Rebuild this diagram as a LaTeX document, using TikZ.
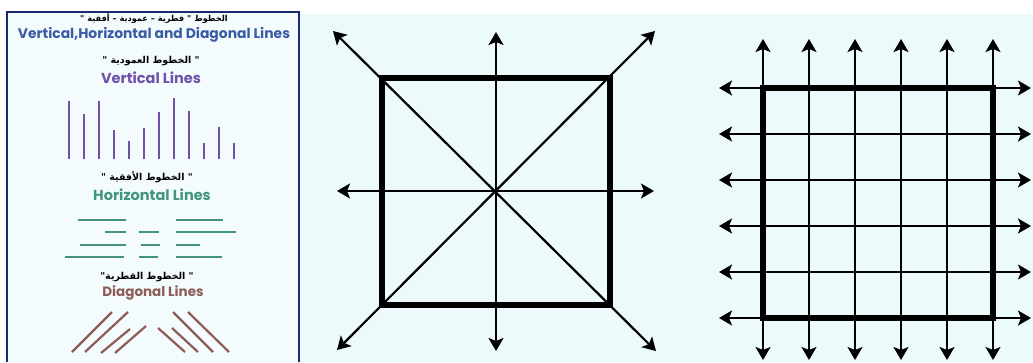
\documentclass[tikz,border=0pt]{standalone}
\usepackage{fontspec}
\setmainfont{Poppins}
\newfontfamily\arabicfont[Script=Arabic]{DejaVu Sans}
\TeXXeTstate=1
\usepackage{tikz}
\usetikzlibrary{arrows.meta}
\definecolor{panelcyan}{RGB}{237,250,252}
\definecolor{panelpale}{RGB}{243,251,252}
\definecolor{frameblue}{RGB}{28,42,115}
\definecolor{titleblue}{RGB}{58,92,165}
\definecolor{vertpurple}{RGB}{112,82,168}
\definecolor{horizteal}{RGB}{66,148,126}
\definecolor{diagbrown}{RGB}{142,92,86}

\begin{document}
\begin{tikzpicture}[x=1pt, y=-1pt,
    arabic/.style={font=\arabicfont\bfseries\fontsize{9.5}{11}\selectfont, inner sep=0pt},
    heading/.style={font=\bfseries\fontsize{14.5}{16}\selectfont, inner sep=0pt},
    vline/.style={vertpurple, line width=2.2pt},
    hline/.style={horizteal, line width=2.2pt},
    dline/.style={diagbrown, line width=2.2pt},
    arrow/.style={{Stealth[length=13pt, width=15pt, inset=3pt]}-{Stealth[length=13pt, width=15pt, inset=3pt]}, line width=2.2pt, black},
    frame/.style={line width=6pt, black}
]
\useasboundingbox (0,0) rectangle (1033,362);
\fill[white] (0,0) rectangle (1033,362);
\fill[panelcyan] (300,14) rectangle (1033,362);
\fill[panelpale] (7,12) rectangle (299,362);
\draw[frameblue, line width=2pt] (7,362) -- (7,12) -- (299,12) -- (299,362);

% left panel: titles and sample lines
\node[arabic, font=\arabicfont\bfseries\fontsize{8.2}{10}\selectfont] (titlear) at (154,18) {\beginR الخطوط " قطرية – عمودية – أفقية "\endR};
\node[heading, font=\bfseries\fontsize{13.9}{15}\selectfont, text=titleblue] (titleen) at (154,35) {Vertical,Horizontal and Diagonal Lines};
\node[arabic] (vertar) at (151,61) {\beginR " الخطوط العمودية "\endR};
\node[heading, text=vertpurple] (verten) at (151,78) {Vertical Lines};
\foreach \x/\t in {69/101, 84/114, 99/101, 114/130, 129/141, 144/128, 159/112, 174/98, 189/111, 204/143, 219/127, 234/143}
  \draw[vline] (\x,159) -- (\x,\t);
\node[arabic] (horizar) at (147,177) {\beginR " الخطوط الأفقية "\endR};
\node[heading, text=horizteal] (horizen) at (152,195) {Horizontal Lines};
\foreach \a/\b/\y in {78/126/220, 176/223/220, 105/126/232, 139/159/232, 176/236/232,
                      80/126/245, 141/160/245, 176/200/245, 65/124/257, 139/158/257, 176/222/257}
  \draw[hline] (\a,\y) -- (\b,\y);
\node[arabic] (diagar) at (147,277) {\beginR " الخطوط القطرية"\endR};
\node[heading, font=\bfseries\fontsize{13.5}{15}\selectfont, text=diagbrown] (diagen) at (153,293) {Diagonal Lines};
\draw[dline] (72,352) -- (112,312);
\draw[dline] (85,352) -- (128,312);
\draw[dline] (101,353) -- (130,329);
\draw[dline] (115,353) -- (146,326);
\draw[dline] (158,328) -- (185,352);
\draw[dline] (172,328) -- (198,352);
\draw[dline] (173,312) -- (213,352);
\draw[dline] (188,312) -- (229,352);

% middle panel: square with its axes and diagonals
\coordinate (mc) at (496,191);
\coordinate (mn) at (496,32);
\coordinate (ms) at (496,351);
\coordinate (mw) at (337,191);
\coordinate (me) at (654,191);
\coordinate (mnw) at (333,31);
\coordinate (mne) at (655,31);
\coordinate (msw) at (337,350);
\coordinate (mse) at (656,351);
\draw[frame] (382,78) rectangle (610,305);
\draw[arrow] (ms) -- (mn);
\draw[arrow] (mw) -- (me);
\draw[arrow] (msw) -- (mne);
\draw[arrow] (mse) -- (mnw);

% right panel: square with a grid of arrows
\foreach \i in {0,...,5} {
  \coordinate (gt\i) at (763+46*\i,39);
  \coordinate (gb\i) at (763+46*\i,360);
  \coordinate (gl\i) at (719,88+46*\i);
  \coordinate (gr\i) at (1031,88+46*\i);
  \draw[arrow] (gb\i) -- (gt\i);
  \draw[arrow] (gl\i) -- (gr\i);
}
\draw[frame] (763,88) rectangle (993,318);
\end{tikzpicture}
\end{document}
